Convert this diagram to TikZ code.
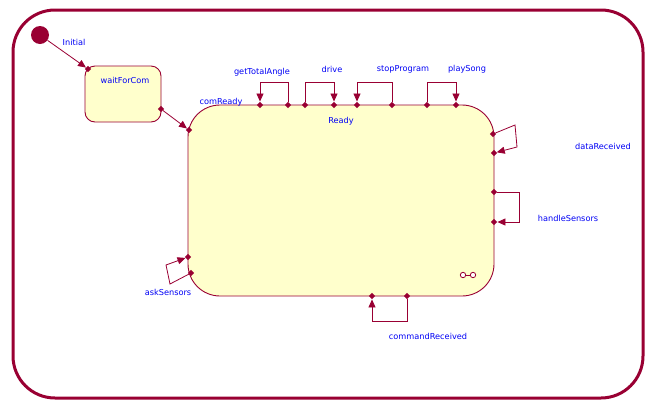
\documentclass[tikz,border=0pt]{standalone}
\usepackage{fontspec}
\setmainfont{DejaVu Sans}
\usepackage{tikz}
\usetikzlibrary{arrows.meta,positioning,shapes.geometric}
\definecolor{umlred}{RGB}{153,0,51}
\definecolor{umlfill}{RGB}{255,255,204}
\definecolor{umlblue}{RGB}{0,0,245}

\begin{document}
\begin{tikzpicture}[
  x=1pt, y=-1pt,
  font=\fontsize{8.2}{9}\selectfont,
  state/.style={draw=umlred, fill=umlfill, line width=0.9pt, inner sep=0pt},
  port/.style={diamond, fill=umlred, inner sep=0pt, minimum size=6.5pt},
  trans/.style={draw=umlred, line width=0.8pt, -{Triangle[length=8pt,width=7pt]}},
  lbl/.style={text=umlblue, inner sep=1pt}
]
\useasboundingbox (0,0) rectangle (650,405);
% frame
\draw[umlred, line width=3pt, rounded corners=42pt] (13,10) rectangle (643,398);

% states
\node[circle, fill=umlred, minimum size=18pt, inner sep=0pt] (init) at (40,35) {};
\node[state, rounded corners=10pt, minimum width=76pt, minimum height=56pt] (wait) at (123,94) {};
\node[state, rounded corners=32pt, minimum width=306pt, minimum height=191pt] (ready) at (341,200.5) {};

% composite icon
\draw[umlred, line width=0.8pt] (465.5,275) -- (470.5,275);
\draw[umlred, line width=0.8pt, fill=white] (463,275) circle (2.7pt);
\draw[umlred, line width=0.8pt, fill=white] (473,275) circle (2.7pt);

% ports
\node[port] (waitIn) at (88,69) {};
\node[port] (waitOut) at (161,109) {};
\node[port] (readyIn) at (189,130) {};
\node[port] (gtaB) at (288,105) {};
\node[port] (gtaA) at (260,105) {};
\node[port] (drvB) at (305,105) {};
\node[port] (drvA) at (334,105) {};
\node[port] (stpB) at (392,105) {};
\node[port] (stpA) at (357,105) {};
\node[port] (plyB) at (427,105) {};
\node[port] (plyA) at (456,105) {};
\node[port] (datB) at (493,134) {};
\node[port] (datA) at (494,153) {};
\node[port] (hdlB) at (494,192) {};
\node[port] (hdlA) at (494,222) {};
\node[port] (cmdB) at (407,296) {};
\node[port] (cmdA) at (372,296) {};
\node[port] (askB) at (191,273) {};
\node[port] (askA) at (188,257) {};

% transitions
\draw[trans] (init) -- (waitIn);
\draw[trans] (waitOut) -- (readyIn);
\draw[trans] (gtaB) -- (288,82) -| (gtaA);
\draw[trans] (drvB) -- (305,82) -| (drvA);
\draw[trans] (stpB) -- (392,82) -| (stpA);
\draw[trans] (plyB) -- (427,82) -| (plyA);
\draw[trans] (datB) -- (515,125) -- (517,147) -- (datA);
\draw[trans] (hdlB) -- (519,192) |- (hdlA);
\draw[trans] (cmdB) -- (407,321) -| (cmdA);
\draw[trans] (askB) -- (170,284) -- (166,265) -- (askA);

% labels
\node[lbl] (lInit) at (74,42) {Initial};
\node[lbl] (lWait) at (125,80) {waitForCom};
\node[lbl] (lReady) at (341,121) {Ready};
\node[lbl] (lCom) at (221,102) {comReady};
\node[lbl] (lGta) at (262,72) {getTotalAngle};
\node[lbl] (lDrv) at (332,69) {drive};
\node[lbl] (lStp) at (403,69) {stopProgram};
\node[lbl] (lPly) at (467,69) {playSong};
\node[lbl] (lDat) at (603,146) {dataReceived};
\node[lbl] (lHdl) at (568,218) {handleSensors};
\node[lbl] (lCmd) at (428,336) {commandReceived};
\node[lbl] (lAsk) at (168,292) {askSensors};
\end{tikzpicture}
\end{document}
